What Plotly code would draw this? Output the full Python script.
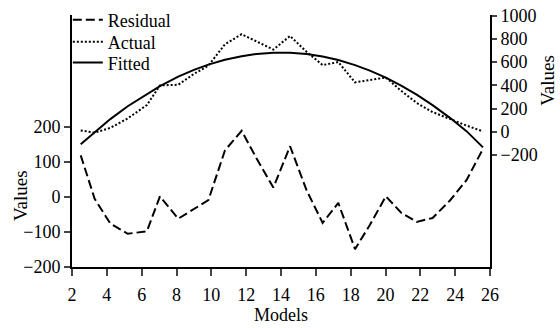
import plotly.graph_objects as go

models = [2.5, 3.3, 4.2, 5.2, 6.3, 7.05, 8.1, 9.0, 9.83, 10.78, 11.74, 12.6, 13.56,
          14.52, 15.47, 16.39, 17.29, 18.25, 19.1, 20.02, 20.9, 21.79, 22.7, 23.7, 24.65, 25.6]
residual = [119, -5, -76, -105, -98, 2, -62, -35, -9, 133, 189, 110, 27,
            145, 19, -74, -17, -149, -80, 2, -45, -71, -60, -10, 48, 138]
actual = [11, -8, 33, 115, 230, 400, 405, 499, 570, 754, 841, 781, 709,
          826, 689, 575, 601, 426, 447, 468, 353, 249, 170, 110, 53, 3]
fitted = [-108, -3, 109, 220, 328, 394, 475, 534, 579, 621, 652, 671, 682,
          681, 670, 649, 618, 575, 527, 466, 398, 320, 230, 120, 5, -135]

left_ticks = [-200, -100, 0, 100, 200]
right_ticks = [-200, 0, 200, 400, 600, 800, 1000]
x_ticks = list(range(2, 27, 2))

FONT = "Liberation Serif"
fig = go.Figure()
fig.add_trace(go.Scatter(x=models, y=residual, name="Residual", mode="lines", legend="legend",
                         line=dict(color="black", width=2, dash="9px,4px"), yaxis="y"))
fig.add_trace(go.Scatter(x=models, y=actual, name="Actual", mode="lines", legend="legend2",
                         line=dict(color="black", width=2, dash="2px,2px"), yaxis="y2"))
fig.add_trace(go.Scatter(x=models, y=fitted, name="Fitted", mode="lines", legend="legend3",
                         line=dict(color="black", width=2), yaxis="y2"))

def leg(yc):
    return dict(x=-0.01, y=yc, xanchor="left", yanchor="middle", bgcolor="rgba(0,0,0,0)",
                borderwidth=0, font=dict(size=18), itemwidth=30)

fig.update_layout(
    width=560, height=328,
    margin=dict(l=72, r=70, t=15, b=61, autoexpand=False),
    paper_bgcolor="white", plot_bgcolor="white",
    font=dict(family=FONT, size=18, color="black"),
    showlegend=True,
    legend=leg(0.980), legend2=leg(0.893), legend3=leg(0.810),
    xaxis=dict(range=[2, 26], tickvals=x_ticks, ticks="outside", ticklen=7, tickwidth=2,
               showline=True, linewidth=2, linecolor="black", showgrid=False, zeroline=False,
               ticklabelstandoff=3, automargin=False,
               title=dict(text="Models", standoff=5, font=dict(size=18))),
    yaxis=dict(range=[-200, 520], tickvals=left_ticks, ticks="outside", ticklen=6, tickwidth=2,
               showline=True, linewidth=2, linecolor="black", showgrid=False, zeroline=False,
               automargin=False),
    yaxis2=dict(range=[-1167, 1007], tickvals=right_ticks, overlaying="y", side="right",
                ticks="outside", ticklen=5, tickwidth=2, showline=True, linewidth=2,
                linecolor="black", showgrid=False, zeroline=False, automargin=False),
    annotations=[
        dict(text="Values", xref="paper", yref="paper", x=-0.1244, y=0.2817, textangle=-90,
             showarrow=False, xanchor="center", yanchor="middle", font=dict(size=19)),
        dict(text="Values", xref="paper", yref="paper", x=1.136, y=0.742, textangle=-90,
             showarrow=False, xanchor="center", yanchor="middle", font=dict(size=19)),
    ],
)
fig.write_html("out.html")
